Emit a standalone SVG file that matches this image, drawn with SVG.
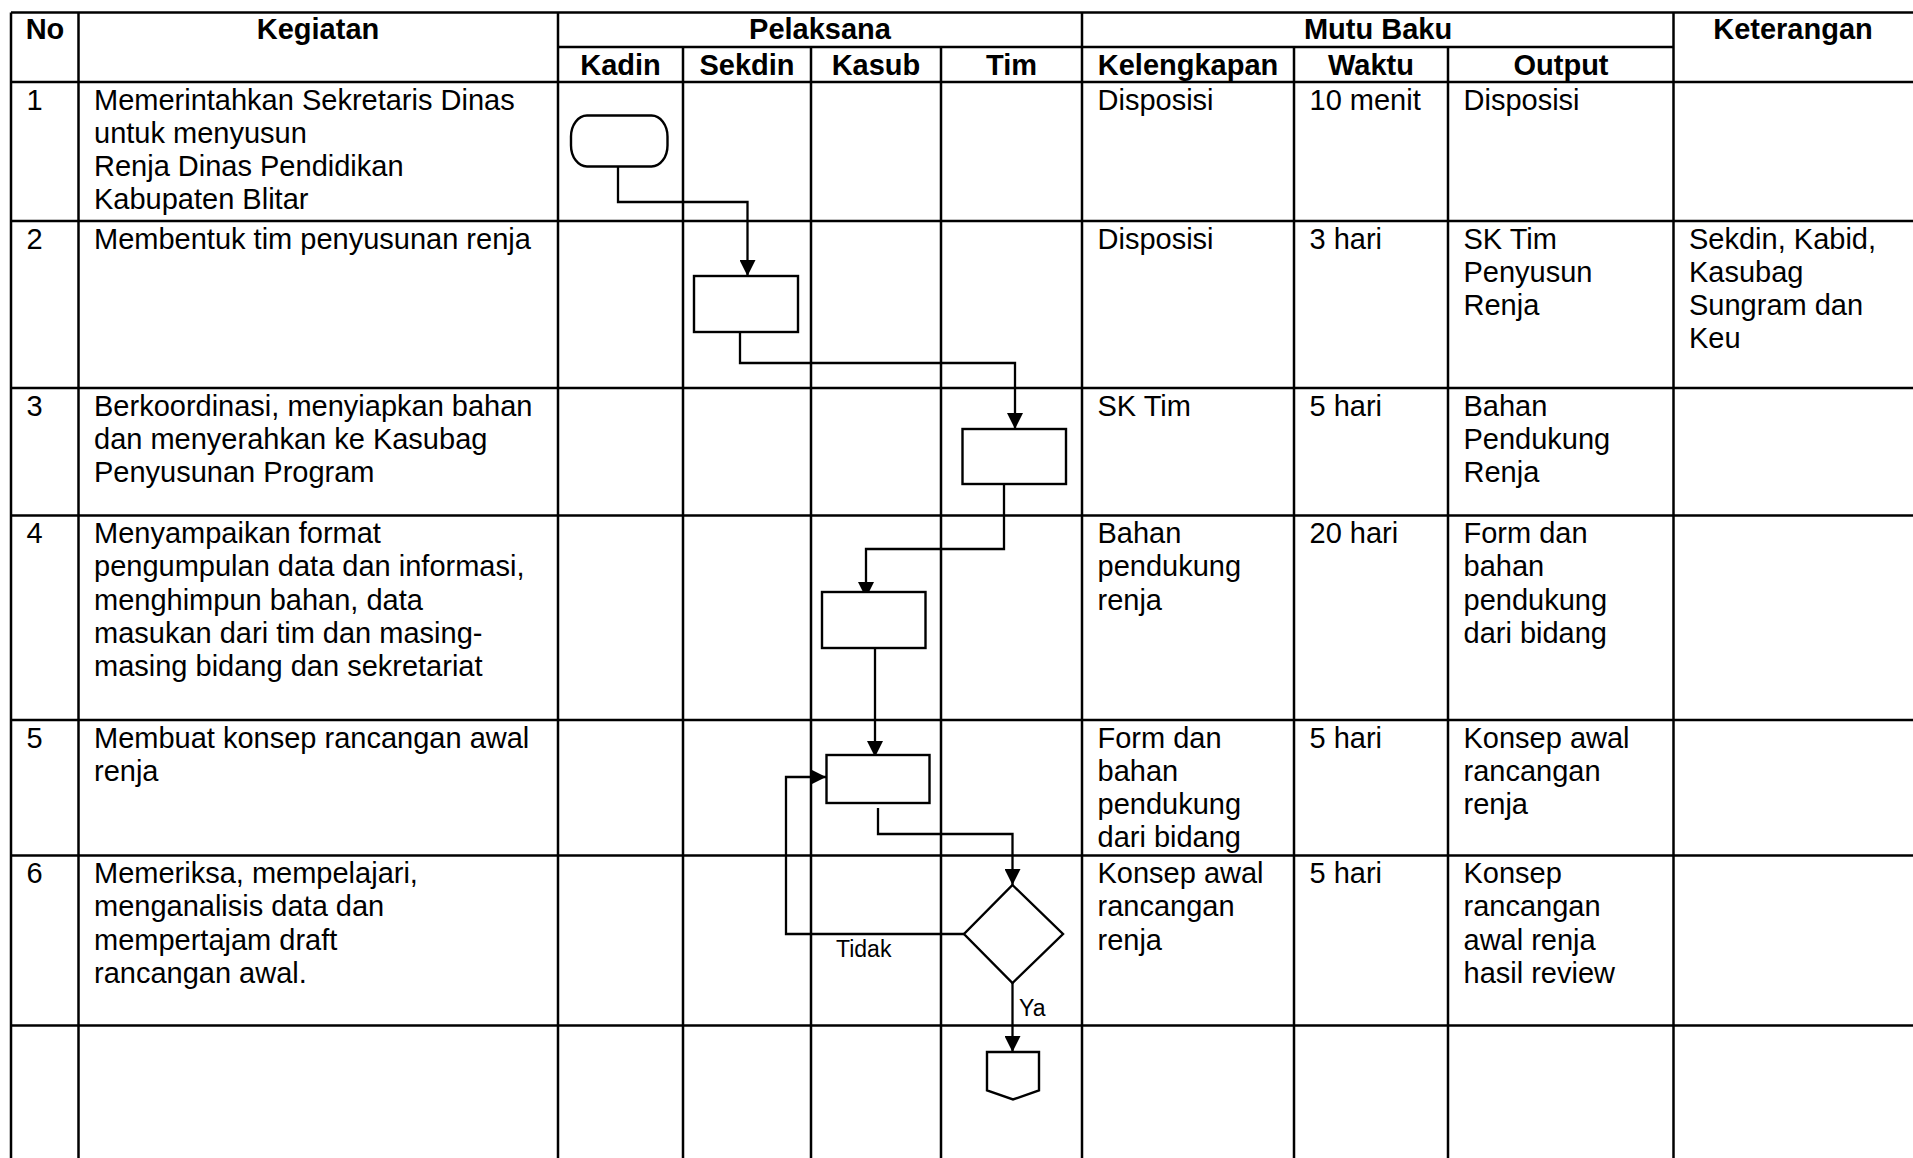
<svg xmlns="http://www.w3.org/2000/svg" width="1913" height="1158" viewBox="0 0 1913 1158">
<style>
.grid{stroke:#000;stroke-width:2.5;fill:none}
.t{font-family:"Liberation Sans",Arial,sans-serif;font-size:29px;fill:#000}
.h{font-family:"Liberation Sans",Arial,sans-serif;font-size:29px;font-weight:bold;fill:#000;text-anchor:middle}
.lbl{font-family:"Liberation Sans",Arial,sans-serif;font-size:23px;fill:#000}
.shape{fill:#fff;stroke:#000;stroke-width:2.4}
.conn{fill:none;stroke:#000;stroke-width:2.3}
</style>
<defs>
<marker id="arrow" viewBox="0 0 16 16" refX="16" refY="8" markerWidth="16" markerHeight="16" markerUnits="userSpaceOnUse" orient="auto">
<path d="M0,0 L16,8 L0,16 Z" fill="#000"/>
</marker>
</defs>
<rect width="1913" height="1158" fill="#fff"/>
<g id="table-grid" class="grid">
<line x1="11" y1="12.5" x2="1913" y2="12.5"/>
<line x1="558" y1="47" x2="1673.5" y2="47"/>
<line x1="11" y1="82" x2="1913" y2="82"/>
<line x1="11" y1="221" x2="1913" y2="221"/>
<line x1="11" y1="388" x2="1913" y2="388"/>
<line x1="11" y1="515.5" x2="1913" y2="515.5"/>
<line x1="11" y1="720" x2="1913" y2="720"/>
<line x1="11" y1="855.5" x2="1913" y2="855.5"/>
<line x1="11" y1="1025.5" x2="1913" y2="1025.5"/>
<line x1="11" y1="12.5" x2="11" y2="1158"/>
<line x1="78.5" y1="12.5" x2="78.5" y2="1158"/>
<line x1="558" y1="12.5" x2="558" y2="1158"/>
<line x1="683" y1="47" x2="683" y2="1158"/>
<line x1="811" y1="47" x2="811" y2="1158"/>
<line x1="941" y1="47" x2="941" y2="1158"/>
<line x1="1082" y1="12.5" x2="1082" y2="1158"/>
<line x1="1294" y1="47" x2="1294" y2="1158"/>
<line x1="1448" y1="47" x2="1448" y2="1158"/>
<line x1="1673.5" y1="12.5" x2="1673.5" y2="1158"/>
</g>
<g id="headers">
<text class="h" x="45" y="39">No</text>
<text class="h" x="318" y="39">Kegiatan</text>
<text class="h" x="820" y="39">Pelaksana</text>
<text class="h" x="1378" y="39">Mutu Baku</text>
<text class="h" x="1793" y="39">Keterangan</text>
<text class="h" x="620.5" y="74.5">Kadin</text>
<text class="h" x="747" y="74.5">Sekdin</text>
<text class="h" x="876" y="74.5">Kasub</text>
<text class="h" x="1011.5" y="74.5">Tim</text>
<text class="h" x="1188" y="74.5">Kelengkapan</text>
<text class="h" x="1371" y="74.5">Waktu</text>
<text class="h" x="1561" y="74.5">Output</text>
</g>
<g id="row1" class="t">
<text x="26.5" y="109.5">1</text>
<text x="94" y="109.5">Memerintahkan Sekretaris Dinas</text>
<text x="94" y="142.8">untuk menyusun</text>
<text x="94" y="176.1">Renja Dinas Pendidikan</text>
<text x="94" y="209.4">Kabupaten Blitar</text>
<text x="1097.5" y="109.5">Disposisi</text>
<text x="1309.5" y="109.5">10 menit</text>
<text x="1463.5" y="109.5">Disposisi</text>
</g>
<g id="row2" class="t">
<text x="26.5" y="248.5">2</text>
<text x="94" y="248.5">Membentuk tim penyusunan renja</text>
<text x="1097.5" y="248.5">Disposisi</text>
<text x="1309.5" y="248.5">3 hari</text>
<text x="1463.5" y="248.5">SK Tim</text>
<text x="1463.5" y="281.8">Penyusun</text>
<text x="1463.5" y="315.1">Renja</text>
<text x="1689" y="248.5">Sekdin, Kabid,</text>
<text x="1689" y="281.8">Kasubag</text>
<text x="1689" y="315.1">Sungram dan</text>
<text x="1689" y="348.4">Keu</text>
</g>
<g id="row3" class="t">
<text x="26.5" y="415.5">3</text>
<text x="94" y="415.5">Berkoordinasi, menyiapkan bahan</text>
<text x="94" y="448.8">dan menyerahkan ke Kasubag</text>
<text x="94" y="482.1">Penyusunan Program</text>
<text x="1097.5" y="415.5">SK Tim</text>
<text x="1309.5" y="415.5">5 hari</text>
<text x="1463.5" y="415.5">Bahan</text>
<text x="1463.5" y="448.8">Pendukung</text>
<text x="1463.5" y="482.1">Renja</text>
</g>
<g id="row4" class="t">
<text x="26.5" y="543">4</text>
<text x="94" y="543">Menyampaikan format</text>
<text x="94" y="576.3">pengumpulan data dan informasi,</text>
<text x="94" y="609.6">menghimpun bahan, data</text>
<text x="94" y="642.9">masukan dari tim dan masing-</text>
<text x="94" y="676.2">masing bidang dan sekretariat</text>
<text x="1097.5" y="543">Bahan</text>
<text x="1097.5" y="576.3">pendukung</text>
<text x="1097.5" y="609.6">renja</text>
<text x="1309.5" y="543">20 hari</text>
<text x="1463.5" y="543">Form dan</text>
<text x="1463.5" y="576.3">bahan</text>
<text x="1463.5" y="609.6">pendukung</text>
<text x="1463.5" y="642.9">dari bidang</text>
</g>
<g id="row5" class="t">
<text x="26.5" y="747.5">5</text>
<text x="94" y="747.5">Membuat konsep rancangan awal</text>
<text x="94" y="780.8">renja</text>
<text x="1097.5" y="747.5">Form dan</text>
<text x="1097.5" y="780.8">bahan</text>
<text x="1097.5" y="814.1">pendukung</text>
<text x="1097.5" y="847.4">dari bidang</text>
<text x="1309.5" y="747.5">5 hari</text>
<text x="1463.5" y="747.5">Konsep awal</text>
<text x="1463.5" y="780.8">rancangan</text>
<text x="1463.5" y="814.1">renja</text>
</g>
<g id="row6" class="t">
<text x="26.5" y="883">6</text>
<text x="94" y="883">Memeriksa, mempelajari,</text>
<text x="94" y="916.3">menganalisis data dan</text>
<text x="94" y="949.6">mempertajam draft</text>
<text x="94" y="982.9">rancangan awal.</text>
<text x="1097.5" y="883">Konsep awal</text>
<text x="1097.5" y="916.3">rancangan</text>
<text x="1097.5" y="949.6">renja</text>
<text x="1309.5" y="883">5 hari</text>
<text x="1463.5" y="883">Konsep</text>
<text x="1463.5" y="916.3">rancangan</text>
<text x="1463.5" y="949.6">awal renja</text>
<text x="1463.5" y="982.9">hasil review</text>
</g>
<g id="connectors">
<path class="conn" d="M618,166 V202 H747.5 V276" marker-end="url(#arrow)"/>
<path class="conn" d="M740,332 V363 H1015 V429" marker-end="url(#arrow)"/>
<path class="conn" d="M1004,484 V549 H866 V598" marker-end="url(#arrow)"/>
<path class="conn" d="M875,646 V757" marker-end="url(#arrow)"/>
<path class="conn" d="M878,808 V834 H1012.5 V885" marker-end="url(#arrow)"/>
<path class="conn" d="M964,934 H786 V777 H826" marker-end="url(#arrow)"/>
<path class="conn" d="M1012.5,983 V1052" marker-end="url(#arrow)"/>
<text class="lbl" x="836" y="957">Tidak</text>
<text class="lbl" x="1019" y="1016">Ya</text>
</g>
<g id="node-start"><rect class="shape" x="571" y="115.5" width="96.5" height="51" rx="16" ry="21"/></g>
<g id="node-2"><rect class="shape" x="694" y="276" width="104" height="56"/></g>
<g id="node-3"><rect class="shape" x="962.5" y="429" width="103.5" height="55"/></g>
<g id="node-4"><rect class="shape" x="822" y="592" width="103.5" height="56"/></g>
<g id="node-5"><rect class="shape" x="826.5" y="755" width="103" height="48"/></g>
<g id="node-decision"><polygon class="shape" points="1012.5,885 1063,934 1012.5,983 964,934"/></g>
<g id="node-offpage"><polygon class="shape" points="987,1052 1039,1052 1039,1090.5 1013,1099.5 987,1090.5"/></g>
</svg>
